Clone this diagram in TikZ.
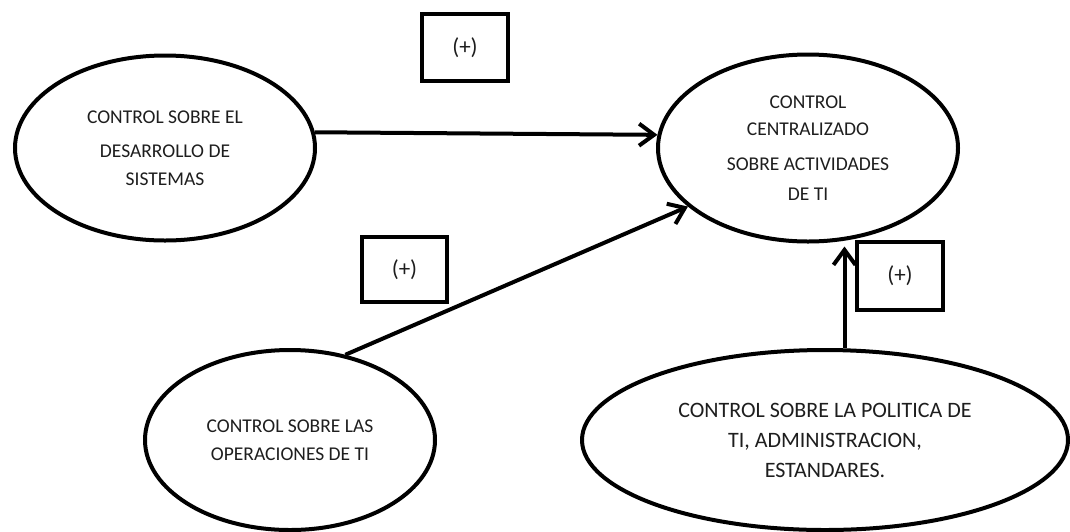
\documentclass[tikz,border=0pt]{standalone}
\usepackage{fontspec}
\setmainfont{Carlito}
\usetikzlibrary{arrows.meta,shapes.geometric}
\definecolor{inkgray}{RGB}{30,30,30}
\begin{document}
\begin{tikzpicture}[x=1pt,y=-1pt,
  bubble/.style={draw=black, line width=4pt, ellipse, inner sep=0pt,
    align=center, text=inkgray, font=\fontsize{19.5}{23}\selectfont},
  signbox/.style={draw=black, line width=4.5pt, inner sep=0pt,
    minimum width=86pt, minimum height=67pt, text=inkgray,
    font=\fontsize{23}{27}\selectfont},
  link/.style={line width=4pt, -{Straight Barb[length=15pt,width=22pt]}}
]
\useasboundingbox (0,0) rectangle (1070,531);
\fill[white] (0,0) rectangle (1070,531);

% ellipses
\node[bubble, minimum width=300pt, minimum height=185pt] (dev) at (165,148)
  {CONTROL SOBRE EL\\[11pt]DESARROLLO DE\\[5pt]SISTEMAS};
\node[bubble, minimum width=300pt, minimum height=187pt] (central) at (808,148)
  {CONTROL\\[4pt]CENTRALIZADO\\[12pt]SOBRE ACTIVIDADES\\[7pt]DE TI};
\node[bubble, minimum width=290pt, minimum height=180pt] (ops) at (290,440)
  {CONTROL SOBRE LAS\\[5pt]OPERACIONES DE TI};
\node[bubble, minimum width=486pt, minimum height=180pt,
  font=\fontsize{22}{26}\selectfont] (policy) at (825,440)
  {CONTROL SOBRE LA POLITICA DE\\[4pt]TI, ADMINISTRACION,\\[4pt]ESTANDARES.};

% (+) boxes
\node[signbox] (plusA) at (465,47.5) {(+)};
\node[signbox, minimum width=85pt, minimum height=65pt] (plusB) at (404.5,269.5) {(+)};
\node[signbox, minimum height=68pt] (plusC) at (900,276) {(+)};

% connectors
\draw[link] (dev.6.6) -- (central.175.1);
\draw[link] (ops.57.7) -- (central.206.4);
\draw[link] (policy.78.7) -- ([yshift=-3pt]policy.78.7 |- central.south);
\end{tikzpicture}
\end{document}
